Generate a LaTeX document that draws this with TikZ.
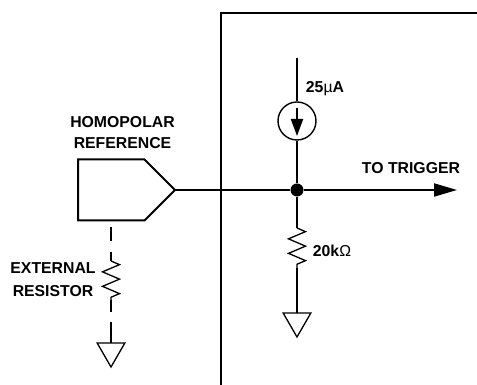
\documentclass[tikz,border=0pt]{standalone}
\usepackage{fontspec}
\setmainfont{Liberation Sans}
\usetikzlibrary{shapes.symbols,shapes.geometric,decorations.pathmorphing,arrows.meta}

\begin{document}
\begin{tikzpicture}[
            x=1pt, y=1pt,
            >={Triangle[length=23pt,width=13pt]},
            wire/.style={line width=2pt},
            resistor/.style={line width=1.3pt, decorate, decoration={zigzag, amplitude=8.5pt, segment length=14.5pt}},
            label/.style={font=\bfseries\fontsize{15.8pt}{20.5pt}\selectfont, align=center, inner sep=0pt},
            ground/.style={draw, regular polygon, regular polygon sides=3, shape border rotate=180,
                           line width=1.3pt, inner sep=0pt, outer sep=0pt, minimum size=32pt},
            dot/.style={circle, fill=black, inner sep=0pt, minimum size=13pt}
        ]
            \useasboundingbox (0,0) rectangle (477,385);

            % wall
            \coordinate (wallbottom) at (221,0);
            \coordinate (walltop) at (221,372);
            \coordinate (wallend) at (477,372);
            \draw[line width=2.3pt] (wallbottom) -- (walltop) -- (wallend);

            % nodes
            \node[dot] (junction) at (297,195) {};
            \coordinate (totrigger) at (457,195);
            \node[draw, line width=1.4pt, circle, inner sep=0pt, minimum size=38pt] (source) [above of=junction, node distance=69pt] {};
            \coordinate[above of=junction, node distance=132pt] (supply);
            \coordinate[above of=source, node distance=13pt] (sourcein);
            \coordinate[below of=source, node distance=15pt] (sourceout);
            \node[signal, signal to=east, signal pointer angle=90, draw, line width=2pt,
                  inner sep=0pt, outer sep=0pt, minimum width=97pt, minimum height=61pt, anchor=east] (homopolar) at (175,195) {};

            % resistors and grounds
            \coordinate[below of=junction, node distance=38pt] (rrighttop);
            \coordinate[below of=junction, node distance=78pt] (rrightend);
            \node[ground] (gndright) [below of=junction, node distance=131pt] {};
            \coordinate (extstart) at (111,158);
            \coordinate (rlefttop) at (111,124);
            \coordinate (rleftend) at (111,85);
            \node[ground] (gndleft) at (111,34) {};

            % edges
            \draw[wire] (homopolar.east) -- (junction);
            \draw[wire, ->] (junction) -- (totrigger);
            \draw[wire] (supply) -- (source);
            \draw[wire] (source) -- (junction);
            \draw[wire, >={Triangle[length=17pt,width=12pt]}, ->] (sourcein) -- (sourceout);
            \draw[wire] (junction) -- (rrighttop);
            \draw[resistor] (rrighttop) -- (rrightend);
            \draw[wire] (rrightend) -- (gndright);
            \draw[wire, dash pattern=on 14pt off 11pt] (extstart) -- (rlefttop);
            \draw[resistor] (rlefttop) -- (rleftend);
            \draw[wire, dash pattern=on 12pt off 10pt on 25pt off 1pt] (rleftend) -- (gndleft);

            % labels
            \node[label] (homopolartext) at (122.5,252.5) {HOMOPOLAR\\REFERENCE};
            \node[label] (triggertext) at (411,217) {TO TRIGGER};
            \node[label] (sourcetext) at (325,296) {25{\mdseries µ}A};
            \node[label] (resistortext) at (332,134) {20k{\mdseries Ω}};
            \node[label, font=\bfseries\fontsize{15.8pt}{23pt}\selectfont] (externaltext) at (53,105) {EXTERNAL\\RESISTOR};
        \end{tikzpicture}
\end{document}
